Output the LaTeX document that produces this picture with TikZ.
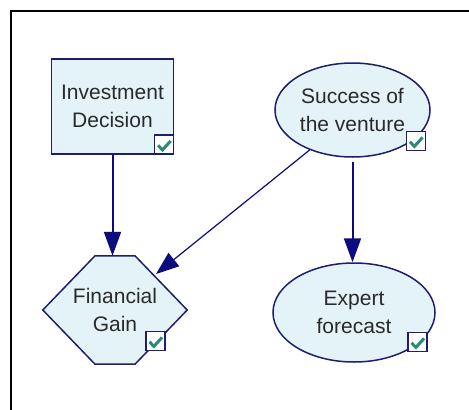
\documentclass[tikz,border=0pt]{standalone}
\usepackage{fontspec}
\setmainfont{Liberation Sans}
\usetikzlibrary{arrows.meta,calc,shapes.geometric,backgrounds}
\definecolor{nodefill}{HTML}{E4F3F7}
\definecolor{navy}{HTML}{1E1E6E}
\definecolor{arrowc}{HTML}{0C0C7E}
\definecolor{chkc}{HTML}{2A8A7A}
\definecolor{txt}{HTML}{2A2A2A}
\begin{document}
\begin{tikzpicture}[x=1pt,y=-1pt,
  every node/.style={font=\fontsize{21}{28}\selectfont, text=txt, align=center, inner sep=0pt},
  box/.style={draw=navy, line width=1.5pt, fill=nodefill},
  chk/.style={draw=navy, line width=1.4pt, fill=white, minimum size=19pt,
    path picture={\draw[chkc, line width=3pt]
      ([xshift=-6pt,yshift=-0.8pt]path picture bounding box.center) --
      ([xshift=-1.6pt,yshift=-5.4pt]path picture bounding box.center) --
      ([xshift=6.6pt,yshift=3.6pt]path picture bounding box.center);}},
  link/.style={draw=arrowc, line width=2pt, -{Triangle[length=24pt,width=17pt]}},
  thinlink/.style={draw=arrowc, line width=1.2pt, -{Triangle[length=23pt,width=17pt]}},
]
\useasboundingbox (0,0) rectangle (469,410);
% frame
\draw[black, line width=2pt] (469,10.8) -- (10.6,10.8) -- (10.6,410);

% nodes
\node[box, minimum width=122pt, minimum height=95pt] (inv) at (112.5,106.5) {Investment\\Decision};
\node[box, ellipse, minimum width=155pt, minimum height=94pt] (suc) at (352.5,110) {Success of\\the venture};
\node[box, ellipse, minimum width=162pt, minimum height=99pt] (exp) at (354,312.5) {Expert\\forecast};
\node[minimum width=144pt, minimum height=108pt] (fin) at (115,310) {Financial\\Gain};
\begin{pgfonlayer}{background}
\fill[white] (0,0) rectangle (469,410);
\draw[box] (fin.west) -- ([xshift=-20pt]fin.north) -- ([xshift=20pt]fin.north) -- (fin.east)
  -- ([xshift=20pt]fin.south) -- ([xshift=-20pt]fin.south) -- cycle;
\end{pgfonlayer}

% check boxes
\node[chk, anchor=south east] (c1) at (inv.south east) {};
\node[chk] (c2) at (416,141) {};
\node[chk] (c3) at (155.5,341) {};
\node[chk] (c4) at (417.5,342) {};

% connectors
\coordinate (fintip) at (156,274);
\draw[link] (inv.south) -- (inv.south |- fin.north);
\draw[link] ([yshift=-4pt]suc.south) -- (suc.south |- exp.north);
\draw[thinlink] (suc.223) -- (fintip);
\end{tikzpicture}
\end{document}
